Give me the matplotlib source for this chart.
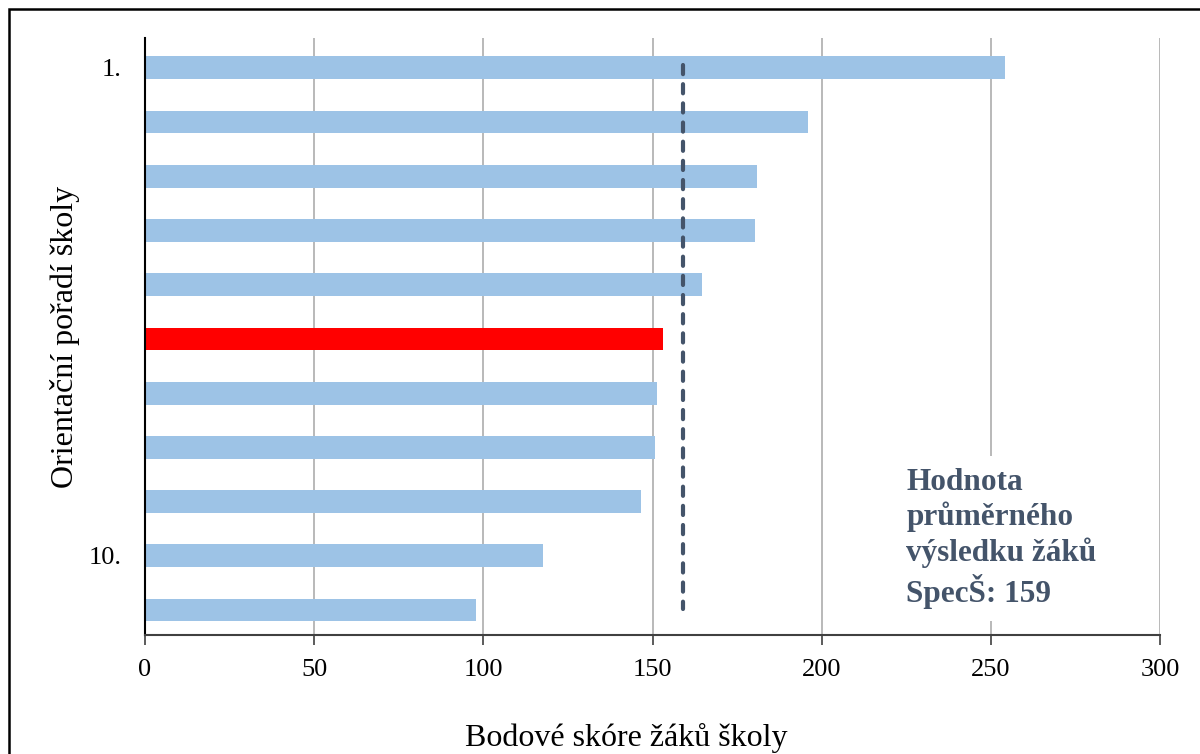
import matplotlib.pyplot as plt
from matplotlib.patches import Rectangle

# scores of the schools, ordered from best to worst
scores = [254.3, 196.0, 180.8, 180.2, 164.6, 153.1, 151.3, 150.8, 146.6, 117.6, 97.8]
highlight = 5  # index of the school shown in red
mean_score = 159
rank_ticks = [0, 9]
rank_labels = ['1.', '10.']
x_ticks = [0, 50, 100, 150, 200, 250, 300]

plt.rcParams['font.family'] = ['Liberation Serif', 'DejaVu Serif']

fig = plt.figure(figsize=(12, 7.54), dpi=100)
ax = fig.add_axes([0.1208, 0.1578, 0.8459, 0.7918])

colors = ['#ff0000' if i == highlight else '#9dc3e6' for i in range(len(scores))]
pos = list(range(len(scores)))
ax.barh(pos, scores, height=0.42, color=colors, zorder=2)

ax.plot([mean_score, mean_score], [-0.05, 9.98], color='#44546a', lw=3,
        ls=(0, (2.2, 2.4)), zorder=3, solid_capstyle='round', dash_capstyle='round')

ax.set_xlim(0, 300)
ax.set_ylim(10.46, -0.55)
ax.set_xticks(x_ticks)
ax.set_yticks(rank_ticks)
ax.set_yticklabels(rank_labels)
ax.tick_params(axis='y', length=0, pad=17, labelsize=19)
ax.tick_params(axis='x', length=7, width=1.2, color='#404040', pad=10, labelsize=19, direction='out')
ax.xaxis.grid(True, color='#b3b3b3', lw=1.3, zorder=0)
ax.set_axisbelow(True)

for s in ['top', 'right']:
    ax.spines[s].set_visible(False)
ax.spines['left'].set_color('black')
ax.spines['left'].set_linewidth(1.5)
ax.spines['bottom'].set_color('#404040')
ax.spines['bottom'].set_linewidth(1.5)

ax.set_xlabel('Bodové skóre žáků školy', fontsize=23)
ax.xaxis.set_label_coords(0.474, -0.147)
ax.set_ylabel('Orientační pořadí školy', fontsize=23)
ax.yaxis.set_label_coords(-0.064, 0.5)

ax.text(225, 8.68, 'Hodnota\nprůměrného\nvýsledku žáků\nSpecŠ: 159', color='#44546a',
        fontsize=22.5, fontweight='bold', va='center', ha='left', linespacing=1.22,
        zorder=4, bbox=dict(facecolor='white', edgecolor='none', pad=8))

fig.patches.append(Rectangle((9 / 1200, -0.05), 1.1, 1 - 9 / 754 + 0.05,
                             transform=fig.transFigure, fill=False,
                             edgecolor='black', lw=1.8))

fig.savefig('out.png', dpi=100)
